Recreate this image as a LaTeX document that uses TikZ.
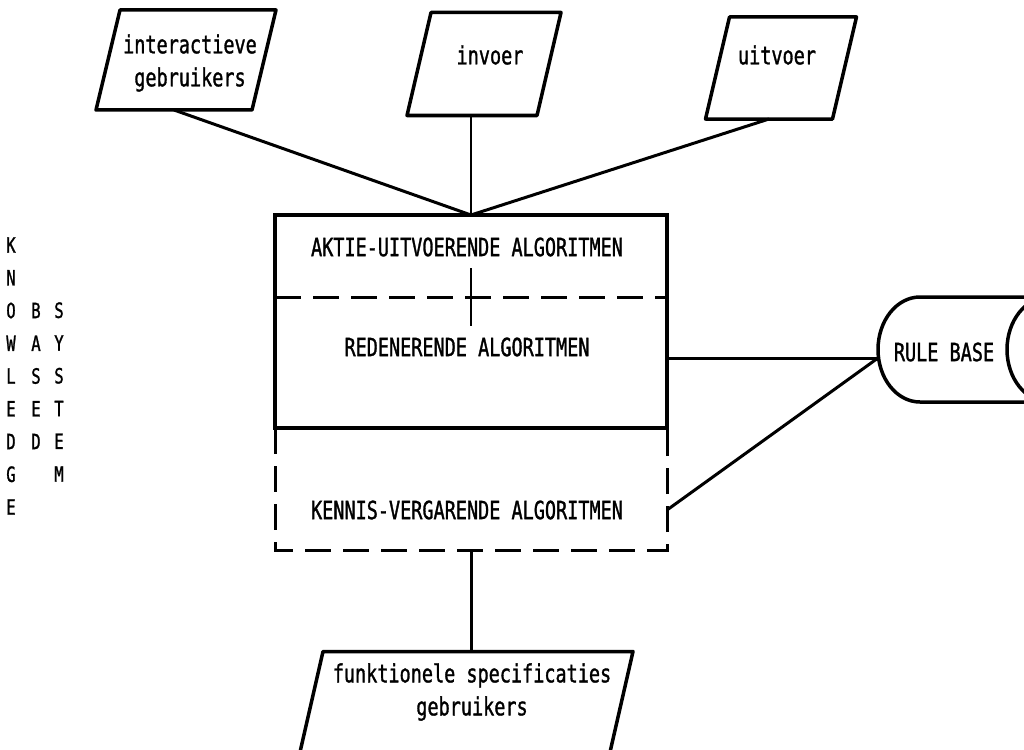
\documentclass[tikz,border=0pt]{standalone}
\usepackage{fontspec}
\newfontfamily\plotfont[FakeStretch=0.74,FakeBold=1.2]{DejaVu Sans Mono}
\usetikzlibrary{positioning}
\begin{document}
\begin{tikzpicture}[x=1pt,y=1pt,
 io/.style={inner sep=0pt,outer sep=0pt},
 frame/.style={line width=3.5pt,line join=round},
 txt/.style={font=\plotfont\fontsize{25}{33}\selectfont,align=center,inner sep=0pt},
 vtxt/.style={font=\plotfont\fontsize{21}{32.75}\selectfont,align=center,inner sep=0pt},
 part/.style={minimum width=392pt,inner sep=0pt,outer sep=0pt},
 dashes/.style={line width=3pt,dash pattern=on 26pt off 12pt},
 link/.style={line width=3pt}]
\clip (0,0) rectangle (1024,-749);
\node[io,minimum width=156pt,minimum height=100pt] (gebr) at (186,-60) {};
\node[io,minimum width=130pt,minimum height=103pt] (inv) at (484,-64) {};
\node[io,minimum width=127pt,minimum height=102pt] (uit) at (781,-68) {};
\node[io,minimum width=310pt,minimum height=105pt] (spec) at (466,-704) {};
\foreach \n in {gebr,inv,uit,spec}
 \draw[frame] ([xshift=-12pt]\n.south west) -- ([xshift=12pt]\n.north west) -- ([xshift=12pt]\n.north east) -- ([xshift=-12pt]\n.south east) -- cycle;
\node[txt] (gebrt) at (190,-63) {interactieve\\gebruikers};
\node[txt] (invt) at (490,-55) {invoer};
\node[txt] (uitt) at (777,-55) {uitvoer};
\node[txt] (spect) at (472,-692) {funktionele specificaties\\gebruikers};
\node[part,minimum height=82pt] (aktie) at (471,-256) {};
\node[part,minimum height=131pt,below=0pt of aktie] (reden) {};
\node[part,minimum height=122pt,below=0pt of reden] (kennis) {};
\node[txt] (aktiet) at (467,-247) {AKTIE-UITVOERENDE ALGORITMEN};
\node[txt] (redent) at (467,-347) {REDENERENDE ALGORITMEN};
\node[txt] (kennist) at (467,-510) {KENNIS-VERGARENDE ALGORITMEN};
\draw[dashes] (reden.south west) -- (kennis.south west) -- (kennis.south east) -- (reden.south east);
\draw[line width=3.5pt] (aktie.north west) rectangle (reden.south east);
\draw[dashes] (aktie.south west) -- (aktie.south east);
\draw[line width=2pt] (aktie.south) ++(0,29) -- ++(0,-58);
\draw[frame] (1070,-297) -- (920,-297) arc[start angle=90,end angle=270,x radius=42,y radius=52.5] -- (1070,-402);
\draw[frame] (1049,-349.5) ellipse[x radius=42,y radius=52.5];
\coordinate (rb) at (878,-358);
\node[txt] (rbt) at (944,-352) {RULE BASE};
\node[vtxt] (kn) at (11,-376) {K\\N\\O\\W\\L\\E\\D\\G\\E};
\node[vtxt] (bs) at (36,-376) {B\\A\\S\\E\\D};
\node[vtxt] (sy) at (59,-392) {S\\Y\\S\\T\\E\\M};
\draw[link] ([xshift=-12pt]gebr.south) -- (aktie.north);
\draw[line width=2pt] (aktie.north) -- (aktie.north |- inv.south);
\draw[link] ([xshift=-12pt]uit.south) -- (aktie.north);
\draw[link] (kennis.south) -- (kennis.south |- spec.north);
\draw[link] (reden.east |- rb) -- (rb);
\draw[link] (kennist -| kennis.east) -- (rb);
\end{tikzpicture}
\end{document}
